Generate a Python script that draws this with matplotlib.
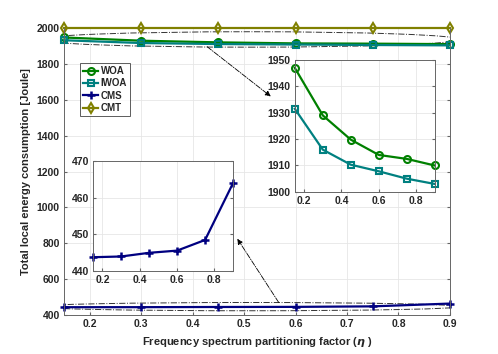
import numpy as np
import matplotlib.pyplot as plt
from matplotlib.patches import Ellipse

plt.rcParams['font.family'] = ['Liberation Sans', 'DejaVu Sans']
plt.rcParams['font.weight'] = 'bold'
plt.rcParams['font.size'] = 8
plt.rcParams['text.color'] = '#262626'
plt.rcParams['axes.labelcolor'] = '#262626'
plt.rcParams['xtick.labelcolor'] = '#262626'
plt.rcParams['ytick.labelcolor'] = '#262626'

ETA = np.array([0.15, 0.3, 0.45, 0.6, 0.75, 0.9])
WOA = np.array([1947.0, 1929.0, 1919.8, 1914.0, 1912.5, 1910.0])
IWOA = np.array([1931.5, 1916.0, 1910.3, 1907.8, 1905.0, 1903.0])
CMS = np.array([443.8, 444.0, 445.0, 445.6, 448.5, 464.0])
CMT = np.array([2000.0, 2000.0, 2000.0, 2000.0, 2000.0, 2000.0])

C_WOA = '#008000'
C_IWOA = '#008080'
C_CMS = '#000080'
C_CMT = '#808000'
SPINE = '#666666'


def style(ax):
    ax.grid(True, color='#e6e6e6', linewidth=0.6)
    ax.set_axisbelow(True)
    for s in ax.spines.values():
        s.set_color(SPINE)
        s.set_linewidth(0.7)
    ax.tick_params(direction='in', length=2.5, color=SPINE, labelsize=7.5,
                   top=False, right=True, pad=3)


fig = plt.figure(figsize=(4.98, 3.54), dpi=100)
ax = fig.add_axes([0.1285, 0.110, 0.775, 0.811])

ax.plot(ETA, WOA, '-o', color=C_WOA, lw=1.6, ms=5, mfc='none', mew=1.5, label='WOA', clip_on=False)
ax.plot(ETA, IWOA, '-s', color=C_IWOA, lw=1.6, ms=5, mfc='none', mew=1.5, label='IWOA', clip_on=False)
ax.plot(ETA, CMS, '-+', color=C_CMS, lw=1.6, ms=6, mew=1.8, label='CMS', clip_on=False)
ax.plot(ETA, CMT, '-d', color=C_CMT, lw=1.6, ms=5, mfc='none', mew=1.5, label='CMT', clip_on=False)

ax.set_xlim(0.15, 0.9)
ax.set_ylim(400, 2000)
ax.set_xticks(np.arange(0.2, 0.91, 0.1))
ax.set_yticks(np.arange(400, 2001, 200))
style(ax)
ax.spines['top'].set_visible(False)
ax.set_xlabel(r'Frequency spectrum partitioning factor ($\eta$ )', fontsize=8, fontweight='bold')
ax.set_ylabel('Total local energy consumption [Joule]', fontsize=8, fontweight='bold')

leg = ax.legend(loc='upper left', bbox_to_anchor=(0.041, 0.878), fontsize=7,
                frameon=True, fancybox=False, handlelength=1.6, borderpad=0.3,
                labelspacing=0.25, handletextpad=0.25, borderaxespad=0)
leg.get_frame().set_edgecolor('#333333')
leg.get_frame().set_linewidth(0.7)

# zoom ellipses
ax.add_patch(Ellipse((0.51, 1936), 0.82, 86, fill=False, ls='-.', lw=0.7, ec='#333333'))
ax.add_patch(Ellipse((0.51, 447), 0.82, 46, fill=False, ls='-.', lw=0.7, ec='#333333'))

# arrows to insets
ax.annotate('', xy=(0.556, 1609), xytext=(0.424, 1905),
            arrowprops=dict(arrowstyle='-|>', ls='-.', lw=0.6, color='black', mutation_scale=8))
ax.annotate('', xy=(0.484, 838), xytext=(0.57, 458),
            arrowprops=dict(arrowstyle='-|>', ls='-.', lw=0.6, color='black', mutation_scale=8))

# inset WOA / IWOA
ax1 = fig.add_axes([0.592, 0.458, 0.281, 0.3725])
ax1.plot(ETA, WOA, '-o', color=C_WOA, lw=1.6, ms=5, mfc='none', mew=1.5, clip_on=False)
ax1.plot(ETA, IWOA, '-s', color=C_IWOA, lw=1.6, ms=5, mfc='none', mew=1.5, clip_on=False)
ax1.set_xlim(0.15, 0.9)
ax1.set_ylim(1900, 1950)
ax1.set_xticks([0.2, 0.4, 0.6, 0.8])
ax1.set_yticks(np.arange(1900, 1951, 10))
style(ax1)

# inset CMS
ax2 = fig.add_axes([0.187, 0.234, 0.281, 0.311])
ax2.plot(ETA, CMS, '-+', color=C_CMS, lw=1.6, ms=6, mew=1.8, clip_on=False)
ax2.set_xlim(0.15, 0.9)
ax2.set_ylim(440, 470)
ax2.set_xticks([0.2, 0.4, 0.6, 0.8])
ax2.set_yticks([440, 450, 460, 470])
style(ax2)

fig.savefig('out.png', dpi=100)
